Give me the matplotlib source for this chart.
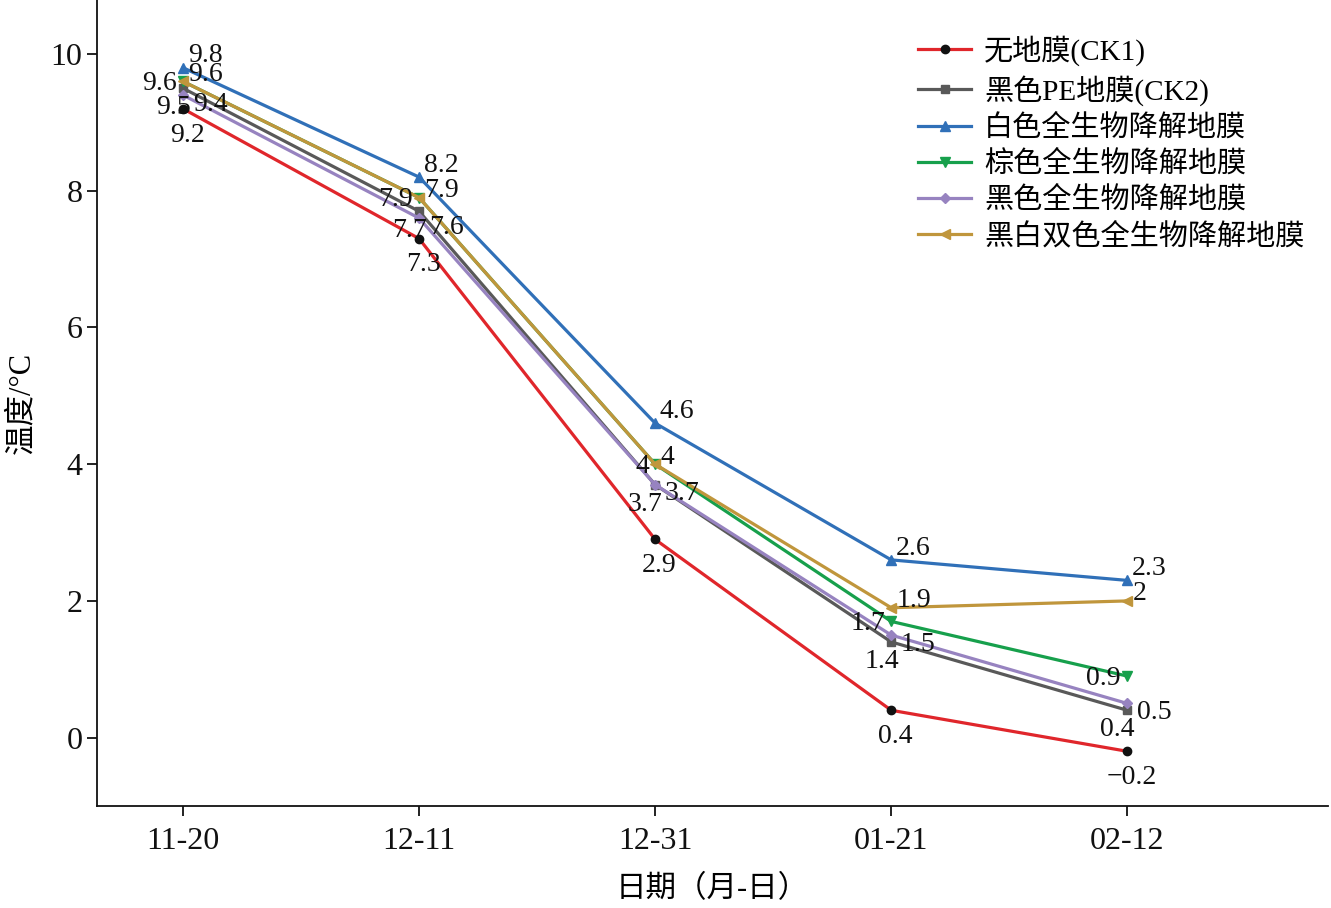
import matplotlib
matplotlib.use("Agg")
import matplotlib.pyplot as plt

dates = ["11-20", "12-11", "12-31", "01-21", "02-12"]
names = ["无地膜(CK1)", "黑色PE地膜(CK2)", "白色全生物降解地膜", "棕色全生物降解地膜",
         "黑色全生物降解地膜", "黑白双色全生物降解地膜"]
ck1 = [9.2, 7.3, 2.9, 0.4, -0.2]
ck2 = [9.5, 7.7, 3.7, 1.4, 0.4]
white = [9.8, 8.2, 4.6, 2.6, 2.3]
brown = [9.6, 7.9, 4.0, 1.7, 0.9]
black = [9.4, 7.6, 3.7, 1.5, 0.5]
bw = [9.6, 7.9, 4.0, 1.9, 2.0]

series = [ck1, ck2, white, brown, black, bw]
colors = ["#e0262b", "#595959", "#3070b8", "#17a04c", "#9783c0", "#c0963c"]
mcolors = ["#111111", "#595959", "#3070b8", "#17a04c", "#9783c0", "#c0963c"]
markers = ["o", "s", "^", "v", "D", "<"]
msizes = [6, 6, 6.5, 6.5, 5.5, 6.5]
# label offsets in points (dx, dy) and alignment
offsets = [(3, -19, "center", "center"),
           (-7, -14, "center", "center"),
           (3.5, 8.5, "left", "center"),
           (-4.5, -1.5, "right", "center"),
           (7, -6.5, "left", "center"),
           (4, 5, "left", "center")]

FAM = ["Liberation Serif", "Noto Sans CJK SC"]
plt.rcParams["font.family"] = FAM

fig = plt.figure(figsize=(13.31, 9.08), dpi=100)
ax = fig.add_axes([97 / 1331, 1 - 806 / 908, (1328 - 97) / 1331, 806 / 908])

x = list(range(len(dates)))
for s, name, c, mc, m, ms, off in zip(series, names, colors, mcolors, markers, msizes, offsets):
    ax.plot(x, s, color=c, lw=2.3, marker=m, markersize=ms, markerfacecolor=mc,
            markeredgecolor=mc, label=name)
    dx, dy, ha, va = off
    for xi, yi in zip(x, s):
        txt = f"{yi:g}".replace("-", "\u2212")
        ax.annotate(txt, (xi, yi), xytext=(dx, dy), textcoords="offset points",
                    ha=ha, va=va, fontsize=20, color="#111111")

ax.set_xlim(-0.364, 4.85)
ax.set_ylim(-1, 10.79)
ax.set_xticks(x)
ax.set_xticklabels(dates)
ax.set_yticks([0, 2, 4, 6, 8, 10])
ax.tick_params(axis="both", direction="out", labelsize=23, length=7, width=1.3, colors="#111111")
ax.tick_params(axis="x", pad=8)
for sp in ["top", "right"]:
    ax.spines[sp].set_visible(False)
for sp in ["left", "bottom"]:
    ax.spines[sp].set_linewidth(1.3)
    ax.spines[sp].set_color("#111111")

ax.set_ylabel("温度/°C", fontsize=22, labelpad=10)
ax.set_xlabel("日期（月-日）", fontsize=22, labelpad=14)

leg = ax.legend(loc="upper right", bbox_to_anchor=(0.995, 0.978), frameon=False, fontsize=21,
                handlelength=1.8, handletextpad=0.45, labelspacing=0.3, borderaxespad=0.2)

fig.savefig("out.png", dpi=100)
